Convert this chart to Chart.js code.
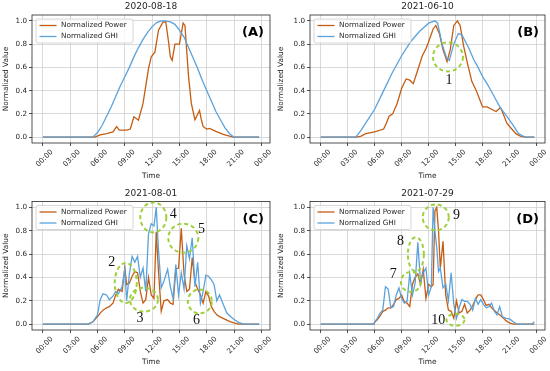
<!DOCTYPE html>
<html>
<head>
<meta charset="utf-8">
<script src="https://cdn.jsdelivr.net/npm/chart.js@4.4.1/dist/chart.umd.min.js"></script>
<style>
  body { margin: 0; background: #fff; }
  #wrap { position: relative; width: 550px; height: 371px; overflow: hidden; }
  canvas { position: absolute; }
</style>
</head>
<body>
<div id="wrap">
  <canvas id="cA" width="275" height="185" style="left:0;top:0"></canvas>
  <canvas id="cB" width="275" height="185" style="left:275px;top:0"></canvas>
  <canvas id="cC" width="275" height="186" style="left:0;top:185px"></canvas>
  <canvas id="cD" width="275" height="186" style="left:275px;top:185px"></canvas>
</div>
<script>
// tick labels
const hourTicks = [0, 3, 6, 9, 12, 15, 18, 21, 24];
const hourLabels = ['00:00', '03:00', '06:00', '09:00', '12:00', '15:00', '18:00', '21:00', '00:00'];
const valueTicks = [0, 0.2, 0.4, 0.6, 0.8, 1.0];

// (A) 2020-08-18
const powerTimeA = [0, 5.7, 6.3, 7.0, 7.7, 8.1, 8.4, 9.2, 9.6, 10.0, 10.5, 11.0, 11.6, 11.9, 12.3, 12.7, 13.2, 13.5, 13.8, 14.0, 14.2, 14.5, 15.0, 15.4, 15.6, 16.0, 16.3, 16.7, 17.2, 17.4, 17.6, 18.0, 18.3, 19.0, 19.8, 20.9, 23.75];
const powerA = [0, 0, 0.02, 0.03, 0.045, 0.09, 0.06, 0.06, 0.07, 0.175, 0.146, 0.29, 0.59, 0.69, 0.73, 0.92, 0.99, 0.99, 0.82, 0.69, 0.66, 0.8, 0.8, 0.98, 0.96, 0.52, 0.29, 0.15, 0.23, 0.15, 0.09, 0.07, 0.075, 0.05, 0.025, 0, 0];
const ghiTimeA = [0, 5.5, 6.0, 6.5, 7.0, 7.5, 8.0, 8.5, 9.0, 9.5, 10.0, 10.5, 11.0, 11.5, 12.0, 12.5, 13.0, 13.4, 14.0, 14.5, 15.0, 15.5, 16.0, 16.5, 17.0, 17.5, 18.0, 18.5, 19.0, 19.5, 20.0, 20.5, 21.0, 23.75];
const ghiA = [0, 0, 0.04, 0.1, 0.18, 0.26, 0.35, 0.44, 0.52, 0.6, 0.69, 0.77, 0.84, 0.9, 0.95, 0.985, 1.0, 1.0, 0.99, 0.97, 0.92, 0.86, 0.77, 0.68, 0.59, 0.49, 0.4, 0.31, 0.22, 0.15, 0.08, 0.03, 0, 0];

// (B) 2021-06-10
const powerTimeB = [0, 4.0, 4.5, 5.0, 6.0, 7.0, 7.3, 7.6, 8.0, 8.5, 9.0, 9.5, 9.9, 10.3, 10.8, 11.3, 11.7, 12.0, 12.5, 12.8, 13.2, 13.6, 14.05, 14.4, 14.8, 15.2, 15.5, 15.9, 16.3, 16.8, 17.3, 17.7, 18.0, 18.5, 19.0, 19.5, 20.0, 20.3, 20.7, 21.2, 21.7, 22.2, 22.7, 23.75];
const powerB = [0, 0, 0.01, 0.03, 0.045, 0.07, 0.12, 0.18, 0.2, 0.29, 0.42, 0.5, 0.49, 0.46, 0.58, 0.7, 0.76, 0.82, 0.93, 0.96, 0.89, 0.75, 0.65, 0.75, 0.96, 1.0, 0.96, 0.78, 0.64, 0.48, 0.4, 0.32, 0.26, 0.26, 0.24, 0.22, 0.255, 0.2, 0.12, 0.075, 0.03, 0.01, 0, 0];
const ghiTimeB = [0, 3.9, 4.5, 5.0, 6.0, 7.0, 8.0, 9.0, 10.0, 11.0, 12.0, 12.7, 13.0, 13.5, 14.0, 14.3, 14.8, 15.3, 15.7, 16.5, 17.0, 17.5, 18.0, 18.5, 19.0, 19.5, 20.0, 20.5, 21.0, 21.5, 22.0, 22.5, 22.8, 23.75];
const ghiB = [0, 0, 0.06, 0.12, 0.24, 0.4, 0.56, 0.7, 0.82, 0.91, 0.98, 1.0, 0.98, 0.8, 0.68, 0.66, 0.8, 0.89, 0.88, 0.76, 0.67, 0.6, 0.52, 0.46, 0.39, 0.32, 0.25, 0.2, 0.146, 0.09, 0.03, 0.01, 0, 0];

// (C) 2021-08-01
const timeC = [0, 5.0, 5.5, 6.0, 6.3, 6.6, 7.0, 7.3, 7.7, 8.0, 8.3, 8.7, 9.0, 9.2, 9.5, 9.8, 10.1, 10.4, 10.7, 11.0, 11.3, 11.6, 11.9, 12.2, 12.45, 12.7, 13.0, 13.3, 13.7, 14.0, 14.3, 14.6, 14.9, 15.2, 15.5, 15.8, 16.1, 16.4, 16.7, 17.0, 17.3, 17.6, 17.9, 18.2, 18.5, 18.8, 19.1, 19.4, 19.8, 20.2, 20.6, 21.0, 21.5, 22.0, 23.75];
const powerC = [0, 0, 0.02, 0.065, 0.095, 0.12, 0.14, 0.15, 0.18, 0.25, 0.3, 0.28, 0.48, 0.34, 0.35, 0.41, 0.45, 0.44, 0.28, 0.18, 0.21, 0.4, 0.25, 0.22, 0.79, 0.45, 0.11, 0.2, 0.21, 0.18, 0.17, 0.47, 0.48, 0.82, 0.43, 0.28, 0.3, 0.57, 0.36, 0.3, 0.25, 0.18, 0.28, 0.24, 0.15, 0.11, 0.08, 0.065, 0.05, 0.035, 0.02, 0.01, 0, 0, 0];
const ghiC = [0, 0, 0.02, 0.08, 0.21, 0.26, 0.25, 0.21, 0.24, 0.28, 0.26, 0.32, 0.47, 0.2, 0.43, 0.58, 0.53, 0.58, 0.4, 0.48, 0.28, 0.77, 0.86, 0.84, 1.0, 0.63, 0.31, 0.37, 0.47, 0.32, 0.22, 0.51, 0.25, 0.44, 0.3, 0.67, 0.56, 0.74, 0.32, 0.53, 0.18, 0.28, 0.42, 0.41, 0.38, 0.34, 0.2, 0.25, 0.17, 0.095, 0.065, 0.04, 0.015, 0, 0];

// (D) 2021-07-29
const timeD = [0, 5.9, 6.0, 6.3, 6.6, 6.9, 7.2, 7.5, 7.8, 8.1, 8.4, 8.7, 9.0, 9.3, 9.6, 9.9, 10.2, 10.5, 10.8, 11.1, 11.4, 11.7, 12.0, 12.3, 12.5, 12.7, 12.9, 13.1, 13.3, 13.6, 13.9, 14.2, 14.5, 14.8, 15.1, 15.4, 15.7, 16.0, 16.3, 16.6, 16.9, 17.2, 17.5, 17.8, 18.1, 18.4, 18.7, 19.0, 19.3, 19.6, 19.9, 20.2, 20.6, 21.0, 21.4, 21.8, 23.5, 23.75];
const powerD = [0, 0, 0.015, 0.04, 0.07, 0.11, 0.12, 0.14, 0.14, 0.17, 0.21, 0.22, 0.25, 0.19, 0.18, 0.15, 0.34, 0.4, 0.43, 0.34, 0.47, 0.22, 0.34, 0.32, 0.34, 0.97, 1.0, 0.8, 0.48, 0.71, 0.25, 0.12, 0.11, 0.05, 0.2, 0.095, 0.11, 0.17, 0.095, 0.12, 0.16, 0.21, 0.25, 0.25, 0.21, 0.16, 0.17, 0.14, 0.12, 0.095, 0.08, 0.06, 0.03, 0.01, 0, 0, 0, 0];
const ghiD = [0, 0, 0.02, 0.05, 0.095, 0.12, 0.32, 0.3, 0.14, 0.15, 0.25, 0.31, 0.22, 0.18, 0.195, 0.43, 0.25, 0.35, 0.7, 0.36, 0.44, 0.48, 0.25, 0.32, 1.0, 0.8, 0.66, 0.45, 0.48, 0.31, 0.34, 0.2, 0.44, 0.17, 0.05, 0.14, 0.21, 0.195, 0.195, 0.17, 0.12, 0.22, 0.17, 0.21, 0.17, 0.14, 0.15, 0.18, 0.11, 0.08, 0.15, 0.065, 0.05, 0.045, 0.02, 0, 0, 0.02];

// marked regions (centre in data units, radii in px) and their numbers
const circlesB = [{ x: 14.15, y: 0.69, rx: 15, ry: 14.5 }];
const numbersB = [{ x: 14.26, y: 0.49, text: '1' }];
const circlesC = [
  { x: 9.1, y: 0.353, rx: 11, ry: 20 },
  { x: 11.1, y: 0.21, rx: 14, ry: 12 },
  { x: 12.13, y: 0.914, rx: 13, ry: 15 },
  { x: 15.42, y: 0.736, rx: 15, ry: 14.5 },
  { x: 17.24, y: 0.195, rx: 12, ry: 12 }
];
const numbersC = [
  { x: 7.56, y: 0.526, text: '2' },
  { x: 10.67, y: 0.052, text: '3' },
  { x: 14.32, y: 0.943, text: '4' },
  { x: 17.42, y: 0.81, text: '5' },
  { x: 16.88, y: 0.037, text: '6' }
];
const circlesD = [
  { x: 10.03, y: 0.362, rx: 10, ry: 10 },
  { x: 10.58, y: 0.598, rx: 8, ry: 17 },
  { x: 12.79, y: 0.914, rx: 13, ry: 13 },
  { x: 14.99, y: 0.037, rx: 9, ry: 6 }
];
const numbersD = [
  { x: 8.08, y: 0.43, text: '7' },
  { x: 8.86, y: 0.713, text: '8' },
  { x: 15.1, y: 0.928, text: '9' },
  { x: 13.08, y: 0.029, text: '10' }
];

const POWER_COLOR = '#c45c12';
const GHI_COLOR = '#5aa2dc';
const TEXT = '#262626';
const GRID = '#d0d0d0';
const FONT = '"DejaVu Sans", sans-serif';

function toPoints(ts, vs) {
  return ts.map((t, i) => ({ x: t, y: vs[i] }));
}

function extrasPlugin(p) {
  return {
    id: 'extras' + p.letter,
    afterDatasetsDraw(chart) {
      const ctx = chart.ctx;
      const a = chart.chartArea;
      const xs = chart.scales.x, ys = chart.scales.y;
      ctx.save();

      // frame
      ctx.strokeStyle = TEXT;
      ctx.lineWidth = 0.8;
      ctx.strokeRect(a.left, a.top, a.right - a.left, a.bottom - a.top);

      // title
      ctx.fillStyle = TEXT;
      ctx.font = '9px ' + FONT;
      ctx.textAlign = 'center';
      ctx.textBaseline = 'middle';
      ctx.fillText(p.title, (a.left + a.right) / 2, a.top - 8);

      // marked regions
      ctx.setLineDash([4, 3]);
      ctx.strokeStyle = 'rgba(154,205,50,0.95)';
      ctx.lineWidth = 2;
      (p.circles || []).forEach(c => {
        ctx.beginPath();
        ctx.ellipse(xs.getPixelForValue(c.x), ys.getPixelForValue(c.y), c.rx, c.ry, 0, 0, Math.PI * 2);
        ctx.stroke();
      });
      ctx.setLineDash([]);
      ctx.fillStyle = '#111';
      ctx.font = '14px "Liberation Serif", serif';
      (p.numbers || []).forEach(n => {
        ctx.fillText(n.text, xs.getPixelForValue(n.x), ys.getPixelForValue(n.y));
      });

      // legend
      const lx = a.left + 4, ly = a.top + 4, lw = 97, lh = 24;
      ctx.fillStyle = 'rgba(255,255,255,0.8)';
      ctx.strokeStyle = '#cccccc';
      ctx.lineWidth = 0.8;
      ctx.beginPath();
      ctx.roundRect(lx, ly, lw, lh, 2);
      ctx.fill();
      ctx.stroke();
      ctx.font = '7.3px ' + FONT;
      ctx.textAlign = 'left';
      chart.data.datasets.forEach((ds, i) => {
        const yy = ly + 6.5 + i * 11;
        ctx.strokeStyle = ds.borderColor;
        ctx.lineWidth = 1.3;
        ctx.beginPath();
        ctx.moveTo(lx + 3.5, yy);
        ctx.lineTo(lx + 20.5, yy);
        ctx.stroke();
        ctx.fillStyle = TEXT;
        ctx.fillText(ds.label, lx + 25, yy);
      });

      // panel letter
      ctx.fillStyle = '#000';
      ctx.font = 'bold 13px ' + FONT;
      ctx.textAlign = 'right';
      ctx.fillText(p.letter, a.right - 6, a.top + 18);
      ctx.restore();
    }
  };
}

function makePanel(id, p) {
  const tickFont = { family: FONT, size: 7.2 };
  const labelFont = { family: FONT, size: 7.4 };
  new Chart(document.getElementById(id), {
    type: 'line',
    data: {
      datasets: [
        { label: 'Normalized Power', data: toPoints(p.powerTime, p.power), borderColor: POWER_COLOR,
          borderWidth: 1.3, pointRadius: 0, tension: 0, order: 1 },
        { label: 'Normalized GHI', data: toPoints(p.ghiTime, p.ghi), borderColor: GHI_COLOR,
          borderWidth: 1.3, pointRadius: 0, tension: 0, order: 0 }
      ]
    },
    options: {
      responsive: false,
      animation: false,
      events: [],
      layout: { padding: { top: p.top, right: 5, left: 0, bottom: 0 } },
      plugins: { legend: { display: false }, tooltip: { enabled: false }, title: { display: false } },
      scales: {
        x: {
          type: 'linear', min: -1.19, max: 24.94,
          afterBuildTicks: s => { s.ticks = hourTicks.map(v => ({ value: v })); },
          afterFit: s => { s.height = p.xh; },
          ticks: { autoSkip: false, minRotation: 45, maxRotation: 45, labelOffset: 9, padding: 2,
                   font: tickFont, color: TEXT, callback: (v, i) => hourLabels[i] },
          grid: { color: GRID, lineWidth: 0.8, tickLength: 3, tickColor: TEXT },
          border: { display: false },
          title: { display: true, text: 'Time', font: labelFont, color: TEXT, padding: { top: 0, bottom: 4 } }
        },
        y: {
          min: -0.05, max: 1.05,
          afterBuildTicks: s => { s.ticks = valueTicks.map(v => ({ value: v })); },
          afterFit: s => { s.width = p.left; },
          ticks: { padding: 2, font: tickFont, color: TEXT, callback: v => v.toFixed(1) },
          grid: { color: GRID, lineWidth: 0.8, tickLength: 3, tickColor: TEXT },
          border: { display: false },
          title: { display: true, text: 'Normalized Value', font: labelFont, color: TEXT, padding: { top: 2, bottom: 0 } }
        }
      }
    },
    plugins: [extrasPlugin(p)]
  });
}

makePanel('cA', { title: '2020-08-18', letter: '(A)', left: 32, top: 15, xh: 42,
  powerTime: powerTimeA, power: powerA, ghiTime: ghiTimeA, ghi: ghiA });
makePanel('cB', { title: '2021-06-10', letter: '(B)', left: 35, top: 15, xh: 42,
  powerTime: powerTimeB, power: powerB, ghiTime: ghiTimeB, ghi: ghiB, circles: circlesB, numbers: numbersB });
makePanel('cC', { title: '2021-08-01', letter: '(C)', left: 32, top: 16.5, xh: 41,
  powerTime: timeC, power: powerC, ghiTime: timeC, ghi: ghiC, circles: circlesC, numbers: numbersC });
makePanel('cD', { title: '2021-07-29', letter: '(D)', left: 35, top: 16.5, xh: 41,
  powerTime: timeD, power: powerD, ghiTime: timeD, ghi: ghiD, circles: circlesD, numbers: numbersD });
</script>
</body>
</html>
